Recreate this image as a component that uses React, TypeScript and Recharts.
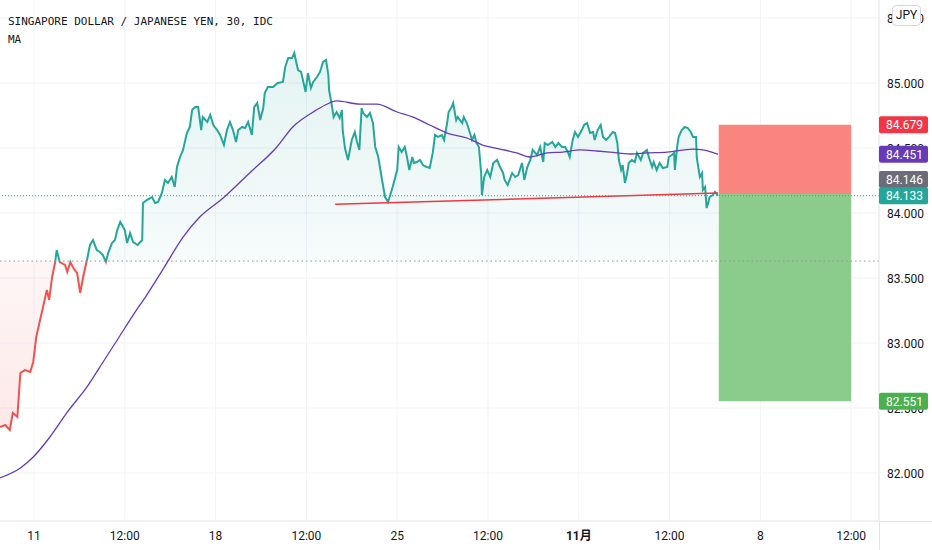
import React from 'react';
import {
  ComposedChart,
  Area,
  Line,
  XAxis,
  YAxis,
  CartesianGrid,
  ReferenceLine,
  ReferenceArea,
} from 'recharts';

// ---- time axis: trading hours counted from Mon 11 Oct 00:00 ----
const xTickHours = [0, 60, 120, 180, 240, 300, 360, 420, 480, 540];
const xTickLabels = ['11', '12:00', '18', '12:00', '25', '12:00', '11月', '12:00', '8', '12:00'];
const yTicks = [82, 82.5, 83, 83.5, 84, 84.5, 85, 85.5];

// ---- SGD/JPY 30m close (sampled) ----
const priceHours = [
  -22.5, -19, -16, -14, -11, -9, -6, -2.5, -0.5, 1.5,
  4, 6, 8.5, 10, 12, 14, 15, 17, 20.5, 22,
  24, 26, 28.5, 30.5, 32.5, 33.5, 35, 37, 39, 41.5,
  43.5, 45.5, 47.5, 49, 51.5, 53.5, 55, 57, 60, 61.5,
  63.5, 65.5, 68.5, 71.5, 72, 74.5, 78, 80, 82, 84.5,
  86.5, 88.5, 91, 93, 94.5, 96.5, 98.5, 101, 103, 104.5,
  106.5, 108.5, 110.5, 111.5, 114.5, 116.5, 118.5, 121, 123, 125.5,
  127.5, 129.5, 131.5, 133.5, 135, 137.5, 139.5, 141.5, 144, 145.5,
  147.5, 149.5, 151.5, 152.5, 154.5, 158, 161, 164.5, 166, 168,
  170.5, 172, 174, 174.5, 176.5, 178, 179.5, 181, 183, 184.5,
  187, 189, 191, 193, 194.5, 195, 197, 198, 200, 202,
  203.5, 204, 205.5, 207.5, 210, 212, 213.5, 215, 216.5, 217.5,
  220, 222, 224, 225.5, 227.5, 230, 232, 234, 235, 237,
  240, 241, 243, 245, 246.5, 248, 250, 251, 253, 255,
  257, 259.5, 261.5, 263.5, 265, 267, 269.5, 271, 273, 274,
  276, 277, 279, 280, 283, 284, 286, 287.5, 289.5, 291,
  292.5, 294, 295.5, 296, 297.5, 299.5, 301.5, 303.5, 306, 308,
  310, 311, 313, 316, 318, 320, 322.5, 324, 326, 328,
  329.5, 332.5, 334.5, 336.5, 337.5, 339.5, 342.5, 344.5, 346.5, 349,
  351, 353, 354, 356, 357.5, 359.5, 362, 363.5, 365.5, 367.5,
  369.5, 370.5, 372.5, 374.5, 376, 378, 380, 382.5, 384, 385.5,
  386.5, 388, 389, 390.5, 392, 393, 395, 397, 398.5, 401,
  402.5, 405, 406.5, 408.5, 409.5, 411.5, 413.5, 415.5, 418.5, 419.5,
  421.5, 423, 423.5, 425, 426, 428, 430, 432, 434, 435.5,
  437.5, 438, 440, 441.5, 442, 443.5, 444.5, 445.5, 446.5, 448.5,
  450, 452,
];
const priceValues = [
  82.354, 82.369, 82.331, 82.462, 82.431, 82.769, 82.792, 82.777, 82.854, 83.046,
  83.177, 83.277, 83.408, 83.331, 83.508, 83.623, 83.715, 83.623, 83.6, 83.546,
  83.623, 83.577, 83.538, 83.385, 83.508, 83.562, 83.638, 83.754, 83.792, 83.715,
  83.7, 83.677, 83.623, 83.692, 83.769, 83.792, 83.869, 83.931, 83.869, 83.769,
  83.846, 83.777, 83.754, 83.792, 84.077, 84.1, 84.123, 84.077, 84.085, 84.154,
  84.254, 84.231, 84.277, 84.2, 84.354, 84.431, 84.485, 84.615, 84.662, 84.792,
  84.815, 84.815, 84.638, 84.738, 84.7, 84.754, 84.677, 84.638, 84.6, 84.523,
  84.638, 84.7, 84.638, 84.546, 84.638, 84.662, 84.654, 84.7, 84.6, 84.815,
  84.846, 84.715, 84.808, 84.923, 84.969, 84.969, 85.0, 85.008, 85.123, 85.192,
  85.192, 85.231, 85.123, 85.1, 85.085, 85.008, 84.931, 85.077, 84.962, 85.008,
  85.046, 85.085, 85.162, 85.177, 85.062, 84.946, 84.815, 84.738, 84.777, 84.731,
  84.792, 84.638, 84.5, 84.408, 84.562, 84.623, 84.546, 84.485, 84.808, 84.769,
  84.738, 84.769, 84.692, 84.508, 84.431, 84.254, 84.123, 84.085, 84.123, 84.2,
  84.331, 84.508, 84.469, 84.508, 84.431, 84.331, 84.431, 84.385, 84.392, 84.408,
  84.369, 84.354, 84.346, 84.462, 84.6, 84.585, 84.6, 84.562, 84.692, 84.777,
  84.815, 84.846, 84.715, 84.738, 84.692, 84.738, 84.692, 84.638, 84.562, 84.6,
  84.538, 84.508, 84.308, 84.138, 84.277, 84.331, 84.277, 84.385, 84.408, 84.354,
  84.308, 84.254, 84.215, 84.308, 84.277, 84.292, 84.385, 84.254, 84.354, 84.408,
  84.485, 84.446, 84.508, 84.392, 84.538, 84.523, 84.546, 84.508, 84.538, 84.508,
  84.508, 84.462, 84.431, 84.562, 84.623, 84.585, 84.638, 84.677, 84.692, 84.615,
  84.623, 84.562, 84.638, 84.677, 84.585, 84.562, 84.585, 84.623, 84.615, 84.538,
  84.408, 84.331, 84.369, 84.231, 84.308, 84.385, 84.408, 84.392, 84.462, 84.408,
  84.462, 84.485, 84.423, 84.354, 84.392, 84.331, 84.385, 84.346, 84.354, 84.431,
  84.446, 84.462, 84.331, 84.508, 84.585, 84.638, 84.662, 84.654, 84.623, 84.585,
  84.585, 84.423, 84.277, 84.308, 84.177, 84.2, 84.038, 84.077, 84.123, 84.138,
  84.162, 84.133,
];

// ---- moving average ----
const maHours = [
  -22.5, -9, -0.5, 10.5, 22, 35, 43.5, 55, 65.5, 74.5,
  85, 98.5, 109.5, 125, 142.5, 160.5, 171, 184.5, 192.5, 200,
  215.5, 226.5, 240, 250.5, 261.5, 273, 286, 296.5, 308, 319,
  327.5, 339, 349.5, 361, 372, 380.5, 394, 405, 418.5, 435.5,
  442, 452,
];
const maValues = [
  81.962, 82.038, 82.123, 82.277, 82.469, 82.662, 82.815, 83.023, 83.215, 83.369,
  83.562, 83.815, 83.969, 84.115, 84.308, 84.508, 84.662, 84.777, 84.831, 84.862,
  84.838, 84.838, 84.777, 84.738, 84.677, 84.615, 84.577, 84.523, 84.492, 84.462,
  84.431, 84.462, 84.469, 84.485, 84.477, 84.469, 84.454, 84.462, 84.469, 84.492,
  84.485, 84.451,
];

// ---- levels ----
const baselineValue = 83.63;
const lastPrice = 84.133;
const maLast = 84.451;
const entryPrice = 84.146;
const stopPrice = 84.679;
const targetPrice = 82.551;
const positionHours = [452.5, 540];
const trendHours = [199, 452];
const trendValues = [84.067, 84.154];

// price tags on the right scale
const tagValues = [stopPrice, maLast, entryPrice, lastPrice, targetPrice];
const tagColors = ['#f23645', '#673ab7', '#6a6d78', '#26a69a', '#4caf50'];
const tagShifts = [0, 0, -14.5, 0, 0];

const xDomain: [number, number] = [-22.47, 558.4];
const yDomain: [number, number] = [81.6308, 85.6385];

// build the merged table
const byHour = new Map<number, any>();
priceHours.forEach((h, i) => byHour.set(h, { h, price: priceValues[i] }));
maHours.forEach((h, i) => {
  const r = byHour.get(h) || { h };
  r.ma = maValues[i];
  byHour.set(h, r);
});
const data = Array.from(byHour.values()).sort((a, b) => a.h - b.h);

const W = 932;
const H = 550;
const X_AXIS_H = 29;
const Y_AXIS_W = 53;
const PLOT_RIGHT = W - Y_AXIS_W;
const PLOT_BOTTOM = H - X_AXIS_H;
const baseOffset = (yDomain[1] - baselineValue) / (yDomain[1] - yDomain[0]);

const TEAL = '#26a69a';
const RED = '#ef5350';
const FONT = 'Roboto, "Liberation Sans", "Noto Sans CJK JP", sans-serif';

const XTick = (props: any) => {
  const { x, y, payload } = props;
  const idx = xTickHours.indexOf(payload.value);
  const label = idx >= 0 ? xTickLabels[idx] : '';
  return (
    <text
      x={x}
      y={y + 10.5}
      textAnchor="middle"
      fill="#131722"
      fontSize={12}
      fontFamily={FONT}
      fontWeight={label === '11月' ? 700 : 400}
    >
      {label}
    </text>
  );
};

const YTick = (props: any) => {
  const { x, y, payload, index } = props;
  const v = payload.value;
  const tagIdx = index >= yTicks.length ? index - yTicks.length : -1;
  if (tagIdx >= 0) {
    const yy = y + tagShifts[tagIdx];
    const left = x - 8;
    return (
      <g>
        <rect x={left} y={yy - 8.5} width={49} height={17} rx={2} fill={tagColors[tagIdx]} />
        <text x={left + 7} y={yy + 0.5} dominantBaseline="central" fill="#ffffff" fontSize={12} fontFamily={FONT}>
          {v.toFixed(3)}
        </text>
      </g>
    );
  }
  return (
    <text x={x} y={y + 0.5} dominantBaseline="central" fill="#131722" fontSize={12} fontFamily={FONT}>
      {v.toFixed(3)}
    </text>
  );
};

export default function App() {
  return (
    <div style={{ position: 'absolute', left: 0, top: 0, width: W, height: H, background: '#ffffff' }}>
      <ComposedChart width={W} height={H} data={data} margin={{ top: 0, right: 0, bottom: 0, left: 0 }}>
        <defs>
          <linearGradient id="baseStroke" gradientUnits="userSpaceOnUse" x1="0" y1="0" x2="0" y2={PLOT_BOTTOM}>
            <stop offset={baseOffset} stopColor={TEAL} />
            <stop offset={baseOffset} stopColor={RED} />
          </linearGradient>
          <linearGradient id="baseFill" gradientUnits="userSpaceOnUse" x1="0" y1="0" x2="0" y2={PLOT_BOTTOM}>
            <stop offset={0.1} stopColor={TEAL} stopOpacity={0.13} />
            <stop offset={baseOffset} stopColor={TEAL} stopOpacity={0.04} />
            <stop offset={baseOffset} stopColor={RED} stopOpacity={0.05} />
            <stop offset={0.85} stopColor={RED} stopOpacity={0.14} />
          </linearGradient>
        </defs>
        <CartesianGrid stroke="#f0f3fa" strokeWidth={1} horizontalValues={yTicks} verticalValues={xTickHours} />
        <XAxis
          dataKey="h"
          type="number"
          domain={xDomain}
          allowDataOverflow
          ticks={xTickHours}
          interval={0}
          height={X_AXIS_H}
          tick={<XTick />}
          tickLine={false}
          axisLine={{ stroke: '#e0e3eb' }}
        />
        <YAxis
          orientation="right"
          type="number"
          domain={yDomain}
          allowDataOverflow
          ticks={[...yTicks, ...tagValues]}
          interval={0}
          width={Y_AXIS_W}
          tick={<YTick />}
          tickLine={false}
          axisLine={{ stroke: '#e0e3eb' }}
        />
        <ReferenceLine y={baselineValue} stroke="#9598a1" strokeDasharray="1.5 3" strokeWidth={1} />
        <ReferenceArea
          x1={positionHours[0]}
          x2={positionHours[1]}
          y1={entryPrice}
          y2={stopPrice}
          fill="#f8857e"
          fillOpacity={1}
          stroke="none"
        />
        <ReferenceArea
          x1={positionHours[0]}
          x2={positionHours[1]}
          y1={targetPrice}
          y2={entryPrice}
          fill="#8bcb8b"
          fillOpacity={1}
          stroke="none"
        />
        <Area
          type="linear"
          dataKey="price"
          baseValue={baselineValue}
          stroke="url(#baseStroke)"
          strokeWidth={2}
          fill="url(#baseFill)"
          fillOpacity={1}
          connectNulls
          dot={false}
          activeDot={false}
          isAnimationActive={false}
        />
        <Line
          type="monotone"
          dataKey="ma"
          stroke="#673ab7"
          strokeWidth={1.3}
          dot={false}
          activeDot={false}
          connectNulls
          isAnimationActive={false}
        />
        <ReferenceLine
          segment={[
            { x: trendHours[0], y: trendValues[0] },
            { x: trendHours[1], y: trendValues[1] },
          ]}
          stroke="#f23645"
          strokeWidth={1.5}
        />
        <ReferenceLine y={lastPrice} stroke={TEAL} strokeDasharray="1 2" strokeWidth={1} />
      </ComposedChart>
      <div style={{ position: 'absolute', left: PLOT_RIGHT, top: PLOT_BOTTOM, width: 1, height: X_AXIS_H, background: '#e0e3eb' }} />
      <div style={{ position: 'absolute', left: PLOT_RIGHT, top: PLOT_BOTTOM, width: Y_AXIS_W, height: 1, background: '#e0e3eb' }} />
      <div
        style={{
          position: 'absolute',
          left: 8,
          top: 13,
          fontFamily: '"DejaVu Sans Mono", monospace',
          fontSize: 11,
          lineHeight: '18px',
          color: '#131722',
          whiteSpace: 'pre',
        }}
      >
        <div>SINGAPORE DOLLAR / JAPANESE YEN, 30, IDC</div>
        <div>MA</div>
      </div>
      <div
        style={{
          position: 'absolute',
          left: 892,
          top: 5,
          width: 29,
          height: 21,
          boxSizing: 'border-box',
          border: '1px solid #d1d4dc',
          borderRadius: 4,
          background: '#ffffff',
          fontFamily: FONT,
          fontSize: 12,
          lineHeight: '19px',
          textAlign: 'center',
          color: '#131722',
        }}
      >
        JPY
      </div>
    </div>
  );
}
